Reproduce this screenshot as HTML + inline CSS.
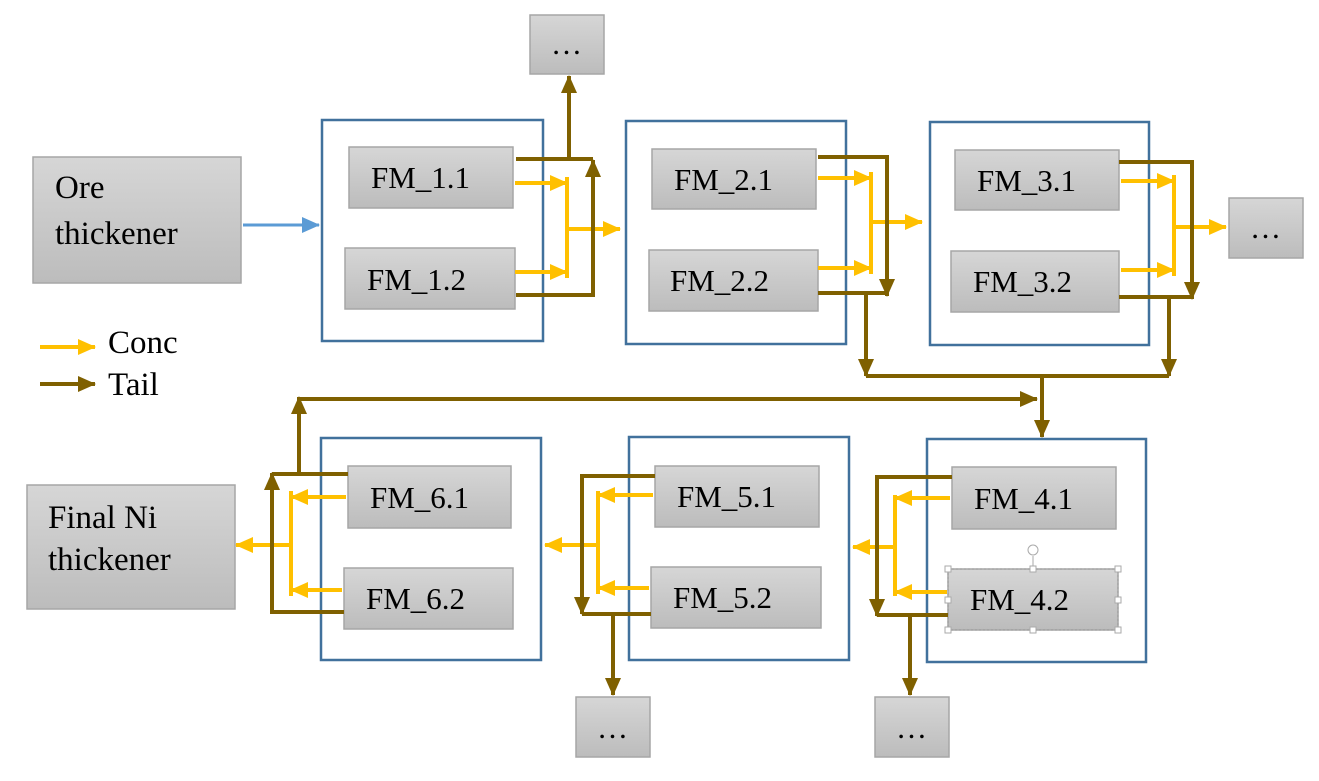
<!DOCTYPE html>
<html><head><meta charset="utf-8"><style>
html,body{margin:0;padding:0;background:#fff}
svg{display:block}
text{font-family:"Liberation Serif",serif;fill:#000}
</style></head><body>
<svg width="1319" height="781" viewBox="0 0 1319 781" xmlns="http://www.w3.org/2000/svg">
<defs>
<linearGradient id="g" x1="0" y1="0" x2="0" y2="1"><stop offset="0" stop-color="#d6d6d6"/><stop offset="1" stop-color="#bcbcbc"/></linearGradient>
<marker id="ay" markerUnits="userSpaceOnUse" markerWidth="18" markerHeight="18" refX="17" refY="9" orient="auto"><path d="M0,1 L18,9 L0,17 z" fill="#FFC000"/></marker>
<marker id="ab" markerUnits="userSpaceOnUse" markerWidth="18" markerHeight="18" refX="17" refY="9" orient="auto"><path d="M0,1 L18,9 L0,17 z" fill="#7F6000"/></marker>
<marker id="bl" markerUnits="userSpaceOnUse" markerWidth="18" markerHeight="18" refX="17" refY="9" orient="auto"><path d="M0,1 L18,9 L0,17 z" fill="#5B9BD5"/></marker>
</defs>

<g fill="none" stroke="#41719C" stroke-width="2.5">
<rect x="322" y="120" width="221" height="221"/>
<rect x="626" y="121" width="220" height="223"/>
<rect x="930" y="122" width="219" height="223"/>
<rect x="321" y="438" width="220" height="222"/>
<rect x="629" y="437" width="220" height="223"/>
<rect x="927" y="439" width="219" height="223"/>
</g>

<g fill="url(#g)" stroke="#a6a6a6" stroke-width="1.5">
<rect x="33" y="157" width="208" height="126"/>
<rect x="27" y="485" width="208" height="124"/>
<rect x="349" y="147" width="164" height="61"/>
<rect x="345" y="248" width="170" height="61"/>
<rect x="652" y="149" width="164" height="60"/>
<rect x="649" y="250" width="169" height="61"/>
<rect x="955" y="150" width="164" height="60"/>
<rect x="951" y="251" width="168" height="61"/>
<rect x="348" y="466" width="163" height="62"/>
<rect x="344" y="568" width="169" height="61"/>
<rect x="655" y="466" width="164" height="61"/>
<rect x="651" y="567" width="170" height="61"/>
<rect x="952" y="467" width="164" height="62"/>
<rect x="948" y="569" width="170" height="61"/>
<rect x="530" y="15" width="74" height="59"/>
<rect x="1229" y="198" width="74" height="60"/>
<rect x="576" y="697" width="74" height="60"/>
<rect x="875" y="697" width="74" height="60"/>
</g>
<g fill="none" stroke="#999" stroke-width="1" stroke-dasharray="2,2">
<rect x="948" y="569" width="170" height="61"/>
</g>
<g fill="#fff" stroke="#aaa" stroke-width="1">
<rect x="945" y="566" width="6" height="6"/><rect x="1030" y="566" width="6" height="6"/><rect x="1115" y="566" width="6" height="6"/>
<rect x="945" y="597" width="6" height="6"/><rect x="1115" y="597" width="6" height="6"/>
<rect x="945" y="627" width="6" height="6"/><rect x="1030" y="627" width="6" height="6"/><rect x="1115" y="627" width="6" height="6"/>
<line x1="1033" y1="566" x2="1033" y2="556"/><circle cx="1033" cy="550" r="5"/>
</g>

<g font-size="33">
<text x="55" y="198">Ore</text><text x="55" y="244">thickener</text>
<text x="48" y="528">Final Ni</text><text x="48" y="570">thickener</text>
<text x="108" y="353">Conc</text>
<text x="108" y="395">Tail</text>
</g>
<g font-size="31">
<text x="371" y="188">FM_1.1</text><text x="367" y="290">FM_1.2</text>
<text x="674" y="190">FM_2.1</text><text x="670" y="291">FM_2.2</text>
<text x="977" y="191">FM_3.1</text><text x="973" y="292">FM_3.2</text>
<text x="370" y="508">FM_6.1</text><text x="366" y="609">FM_6.2</text>
<text x="677" y="507">FM_5.1</text><text x="673" y="608">FM_5.2</text>
<text x="974" y="509">FM_4.1</text><text x="970" y="610">FM_4.2</text>
<text x="551" y="54">…</text><text x="1250" y="238">…</text>
<text x="597" y="738">…</text><text x="896" y="738">…</text>
</g>

<line x1="243" y1="225" x2="319" y2="225" stroke="#5B9BD5" stroke-width="3" marker-end="url(#bl)"/>

<g stroke="#FFC000" stroke-width="4" fill="none">
<line x1="40" y1="347" x2="95" y2="347" marker-end="url(#ay)"/>
<line x1="515" y1="183" x2="567" y2="183" marker-end="url(#ay)"/>
<line x1="515" y1="272" x2="567" y2="272" marker-end="url(#ay)"/>
<line x1="567" y1="177" x2="567" y2="278"/>
<line x1="567" y1="229" x2="620" y2="229" marker-end="url(#ay)"/>
<line x1="818" y1="178" x2="871" y2="178" marker-end="url(#ay)"/>
<line x1="818" y1="268" x2="871" y2="268" marker-end="url(#ay)"/>
<line x1="871" y1="172" x2="871" y2="274"/>
<line x1="871" y1="222" x2="922" y2="222" marker-end="url(#ay)"/>
<line x1="1121" y1="181" x2="1174" y2="181" marker-end="url(#ay)"/>
<line x1="1121" y1="270" x2="1174" y2="270" marker-end="url(#ay)"/>
<line x1="1174" y1="175" x2="1174" y2="276"/>
<line x1="1174" y1="227" x2="1226" y2="227" marker-end="url(#ay)"/>
<line x1="950" y1="498" x2="895" y2="498" marker-end="url(#ay)"/>
<line x1="947" y1="592" x2="895" y2="592" marker-end="url(#ay)"/>
<line x1="895" y1="495" x2="895" y2="596"/>
<line x1="895" y1="547" x2="853" y2="547" marker-end="url(#ay)"/>
<line x1="653" y1="495" x2="598" y2="495" marker-end="url(#ay)"/>
<line x1="649" y1="588" x2="598" y2="588" marker-end="url(#ay)"/>
<line x1="598" y1="491" x2="598" y2="594"/>
<line x1="598" y1="545" x2="545" y2="545" marker-end="url(#ay)"/>
<line x1="346" y1="497" x2="291" y2="497" marker-end="url(#ay)"/>
<line x1="342" y1="590" x2="291" y2="590" marker-end="url(#ay)"/>
<line x1="291" y1="491" x2="291" y2="596"/>
<line x1="291" y1="545" x2="236" y2="545" marker-end="url(#ay)"/>
</g>

<g stroke="#7F6000" stroke-width="4" fill="none">
<line x1="40" y1="384" x2="95" y2="384" marker-end="url(#ab)"/>
<polyline points="516,159 593,159"/>
<line x1="569" y1="159" x2="569" y2="76" marker-end="url(#ab)"/>
<polyline points="516,295 593,295 593,160" marker-end="url(#ab)"/>
<polyline points="818,157 887,157 887,296" marker-end="url(#ab)"/>
<polyline points="818,293 887,293"/>
<line x1="866" y1="293" x2="866" y2="376" marker-end="url(#ab)"/>
<polyline points="1119,162 1192,162 1192,299" marker-end="url(#ab)"/>
<polyline points="1119,297 1192,297"/>
<line x1="1169" y1="297" x2="1169" y2="376" marker-end="url(#ab)"/>
<line x1="866" y1="376" x2="1169" y2="376"/>
<line x1="1042" y1="376" x2="1042" y2="437" marker-end="url(#ab)"/>
<line x1="299" y1="399" x2="1037" y2="399" marker-end="url(#ab)"/>
<polyline points="299,474 299,397" marker-end="url(#ab)"/>
<polyline points="348,474 272,474"/>
<polyline points="344,612 272,612 272,473" marker-end="url(#ab)"/>
<polyline points="655,476 582,476 582,614" marker-end="url(#ab)"/>
<polyline points="651,614 582,614"/>
<line x1="613" y1="614" x2="613" y2="695" marker-end="url(#ab)"/>
<polyline points="952,477 877,477 877,616" marker-end="url(#ab)"/>
<polyline points="948,615 877,615"/>
<line x1="910" y1="615" x2="910" y2="695" marker-end="url(#ab)"/>
</g>
</svg>
</body></html>
